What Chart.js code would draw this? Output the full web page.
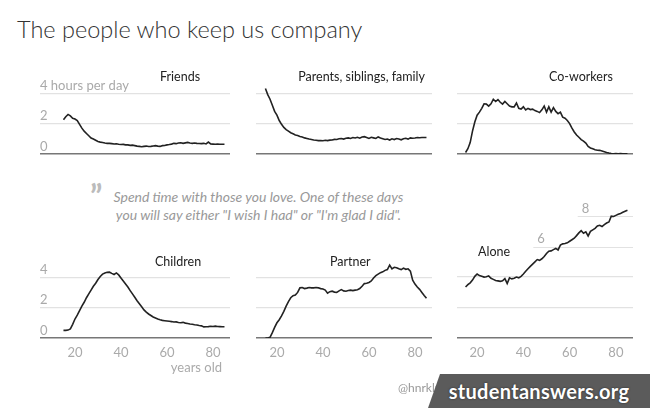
<!DOCTYPE html>
<html>
<head>
<meta charset="utf-8">
<title>The people who keep us company</title>
<script src="https://cdn.jsdelivr.net/npm/chart.js@4.4.0/dist/chart.umd.min.js"></script>
<style>
  body { margin: 0; background: #fff; }
  #wrap { position: relative; width: 650px; height: 408px; overflow: hidden; font-family: Lato, 'Open Sans', sans-serif; }
  #wrap canvas { position: absolute; }
  .txt { position: absolute; white-space: nowrap; }
  .title { left: 17px; top: 13px; font-size: 23.5px; line-height: 32px; font-weight: 300; color: #333; }
  .panel { font-size: 12.5px; line-height: 16px; color: #222; }
  .quote { left: 90px; width: 337px; top: 188px; font-size: 14px; line-height: 18px; font-style: italic; color: #999; text-align: center; }
  .qmark { left: 90px; top: 181px; font-size: 32px; line-height: 30px; font-weight: 700; color: #bbb; }
  .axis { font-size: 13px; line-height: 16px; color: #aaa; }
  .credit { left: 398px; top: 380px; font-size: 12px; line-height: 16px; color: #999; }
  .mark { left: 428px; top: 374px; width: 222px; height: 34px; background: #5b5b5b; color: #fff;
          font-weight: 700; font-size: 20px; line-height: 34px; text-align: center; letter-spacing: 0.3px;
          clip-path: polygon(12px 0, 100% 0, 100% 100%, 0 100%); text-shadow: 0 0 2px #222; }
</style>
</head>
<body>
<div id="wrap">
  <div class="txt title">The people who keep us company</div>

  <canvas id="friends" width="190" height="85" style="left:40px;top:72px"></canvas>
  <canvas id="parents" width="176" height="85" style="left:256px;top:72px"></canvas>
  <canvas id="coworkers" width="176" height="85" style="left:457px;top:72px"></canvas>
  <canvas id="children" width="190" height="114" style="left:40px;top:250px"></canvas>
  <canvas id="partner" width="176" height="114" style="left:256px;top:250px"></canvas>
  <canvas id="alone" width="176" height="169" style="left:457px;top:195px"></canvas>

  <div class="txt panel" style="left:160px;top:69px">Friends</div>
  <div class="txt panel" style="right:225px;top:69px">Parents, siblings, family</div>
  <div class="txt panel" style="left:549px;top:69px">Co-workers</div>
  <div class="txt panel" style="left:155px;top:254px">Children</div>
  <div class="txt panel" style="left:330px;top:254px">Partner</div>
  <div class="txt panel" style="left:478px;top:244px">Alone</div>

  <div class="txt qmark">&rdquo;</div>
  <div class="txt quote">Spend time with those you love. One of these days<br>you will say either "I wish I had" or "I'm glad I did".</div>

  <div class="txt axis" style="right:428px;top:359px">years old</div>
  <div class="txt credit">@hnrklndbrg</div>
  <div class="txt mark">studentanswers.org</div>
</div>

<script>
// Hours per day spent with each group, by age
const ages = [15, 16, 17, 18, 19, 20, 21, 22, 23, 24, 25, 26, 27, 28, 29, 30, 31, 32, 33, 34,
  35, 36, 37, 38, 39, 40, 41, 42, 43, 44, 45, 46, 47, 48, 49, 50, 51, 52, 53, 54,
  55, 56, 57, 58, 59, 60, 61, 62, 63, 64, 65, 66, 67, 68, 69, 70, 71, 72, 73, 74,
  75, 76, 77, 78, 79, 80, 81, 82, 83, 84, 85];

const friends = [2.25, 2.45, 2.6, 2.5, 2.35, 2.3, 2.2, 1.95, 1.7, 1.5, 1.35, 1.2, 1.05, 0.98, 0.9, 0.82, 0.78, 0.76, 0.72, 0.7,
  0.7, 0.68, 0.66, 0.67, 0.64, 0.62, 0.63, 0.6, 0.6, 0.57, 0.58, 0.55, 0.52, 0.5, 0.48, 0.5, 0.52, 0.49, 0.5, 0.53,
  0.55, 0.52, 0.5, 0.55, 0.56, 0.6, 0.62, 0.65, 0.7, 0.68, 0.72, 0.74, 0.7, 0.73, 0.76, 0.72, 0.7, 0.72, 0.7, 0.69,
  0.68, 0.7, 0.66, 0.78, 0.66, 0.65, 0.64, 0.65, 0.64, 0.64, 0.64];

const parents = [4.3, 3.9, 3.6, 3.2, 2.8, 2.55, 2.2, 1.95, 1.75, 1.6, 1.5, 1.4, 1.33, 1.25, 1.22, 1.15, 1.12, 1.06, 1.02, 0.98,
  0.95, 0.92, 0.9, 0.88, 0.89, 0.87, 0.9, 0.88, 0.91, 0.92, 0.96, 0.95, 1.0, 1.02, 0.98, 1.04, 1.06, 1.02, 1.08, 1.05,
  1.1, 1.04, 1.12, 1.14, 1.08, 1.02, 1.1, 1.06, 1.02, 1.12, 1.05, 1.0, 0.95, 0.98, 0.92, 1.0, 0.95, 1.02, 0.98, 0.93,
  1.0, 1.03, 0.98, 1.06, 1.04, 1.05, 1.08, 1.07, 1.08, 1.08, 1.08];

const coworkers = [0.1, 0.35, 0.75, 1.5, 2.1, 2.55, 2.75, 3.0, 3.3, 3.28, 3.15, 3.3, 3.6, 3.45, 3.58, 3.4, 3.28, 3.45, 3.3, 3.15,
  3.1, 3.1, 3.35, 3.0, 2.95, 3.1, 2.9, 3.0, 2.92, 2.95, 2.85, 2.8, 2.72, 2.9, 3.15, 2.75, 3.1, 2.75, 3.05, 2.8,
  2.65, 2.75, 2.42, 2.35, 2.2, 2.0, 1.7, 1.45, 1.25, 1.1, 0.95, 0.85, 0.72, 0.5, 0.4, 0.35, 0.28, 0.25, 0.24, 0.2,
  0.15, 0.1, 0.06, 0.03, 0.02, 0.03, 0.02, 0.03, 0.02, 0.02, 0.02];

const children = [0.5, 0.5, 0.52, 0.6, 0.9, 1.25, 1.5, 1.8, 2.1, 2.35, 2.65, 2.9, 3.15, 3.4, 3.6, 3.85, 4.05, 4.2, 4.28, 4.32,
  4.33, 4.25, 4.18, 4.28, 4.15, 3.95, 3.75, 3.55, 3.35, 3.12, 2.9, 2.68, 2.45, 2.25, 2.05, 1.85, 1.7, 1.58, 1.48, 1.38,
  1.32, 1.25, 1.2, 1.16, 1.14, 1.12, 1.1, 1.08, 1.05, 1.06, 1.02, 1.0, 1.03, 0.98, 0.95, 0.92, 0.9, 0.87, 0.85, 0.82,
  0.8, 0.73, 0.74, 0.75, 0.77, 0.76, 0.78, 0.76, 0.75, 0.74, 0.74];

const partner = [0, 0, 0.05, 0.35, 0.7, 1.0, 1.2, 1.45, 1.75, 2.1, 2.4, 2.65, 2.78, 2.82, 3.0, 3.3, 3.32, 3.25, 3.28, 3.32,
  3.3, 3.3, 3.32, 3.3, 3.25, 3.22, 3.15, 2.95, 3.05, 3.08, 3.02, 3.0, 3.1, 3.18, 3.1, 3.08, 3.12, 3.15, 3.12, 3.15,
  3.18, 3.25, 3.4, 3.58, 3.6, 3.65, 3.75, 3.95, 4.1, 4.2, 4.3, 4.35, 4.45, 4.5, 4.8, 4.55, 4.65, 4.62, 4.55, 4.5,
  4.6, 4.52, 4.55, 4.4, 3.8, 3.55, 3.35, 3.2, 3.0, 2.8, 2.62];

const alone = [3.35, 3.5, 3.62, 3.8, 4.05, 4.2, 4.1, 4.05, 4.0, 4.02, 4.08, 3.92, 3.85, 3.78, 3.75, 3.72, 3.75, 3.9, 3.58, 3.95,
  3.88, 3.92, 4.0, 3.95, 4.05, 4.2, 4.38, 4.55, 4.7, 4.85, 5.0, 5.15, 5.1, 5.2, 5.35, 5.55, 5.7, 5.72, 5.8, 5.88,
  5.78, 6.1, 6.18, 6.2, 6.25, 6.35, 6.45, 6.55, 6.72, 6.9, 7.05, 6.88, 6.97, 6.7, 7.0, 7.1, 7.2, 7.35, 7.4, 7.32,
  7.45, 7.55, 7.62, 8.0, 7.98, 8.05, 8.12, 8.18, 8.25, 8.32, 8.38];

// Ticks
const xTicks = [20, 40, 60, 80];
const yTicks = [0, 2, 4];
const yTicksAlone = [0, 2, 4, 6, 8];
const friendsTickLabels = ['0', '2', '4 hours per day'];
const childrenTickLabels = ['0', '2', '4'];
// the two upper lines in "Alone" are short and labelled where they start (age)
const aloneShortTicks = [6, 8];
const aloneShortLabels = ['6', '8'];
const aloneShortFrom = [44.3, 63.5];

// draws tick labels sitting just above their grid line
const tickText = {
  id: 'tickText',
  afterDraw(chart, args, opts) {
    if (!opts.values) return;
    const { ctx, chartArea, scales } = chart;
    ctx.save();
    ctx.font = '13px Lato, sans-serif';
    ctx.fillStyle = '#a9a9a9';
    ctx.textBaseline = 'bottom';
    opts.values.forEach((v, i) => {
      const x = opts.from ? scales.x.getPixelForValue(opts.from[i]) + 4 : chartArea.left;
      ctx.fillText(opts.labels[i], x, scales.y.getPixelForValue(v) - 1);
    });
    ctx.restore();
  }
};

// grid lines that only start part way along the panel
const shortGrid = {
  id: 'shortGrid',
  beforeDatasetsDraw(chart, args, opts) {
    if (!opts.values) return;
    const { ctx, chartArea, scales } = chart;
    ctx.save();
    ctx.strokeStyle = '#e2e2e2';
    ctx.lineWidth = 1.2;
    opts.values.forEach((v, i) => {
      const y = Math.round(scales.y.getPixelForValue(v)) + 0.5;
      ctx.beginPath();
      ctx.moveTo(scales.x.getPixelForValue(opts.from[i]), y);
      ctx.lineTo(chartArea.right, y);
      ctx.stroke();
    });
    ctx.restore();
  }
};

function makeChart(id, values, cfg) {
  const hidden = cfg.shortGrid ? cfg.shortGrid.values : [];
  new Chart(document.getElementById(id), {
    type: 'line',
    data: {
      datasets: [{
        data: ages.map((a, i) => ({ x: a, y: values[i] })),
        borderColor: '#222',
        borderWidth: 1.6,
        pointRadius: 0,
        tension: 0,
      }],
    },
    options: {
      responsive: false,
      animation: false,
      events: [],
      layout: { padding: { top: 12, bottom: cfg.showX ? 0 : 3, left: 0, right: 0 } },
      plugins: {
        legend: { display: false },
        tooltip: { enabled: false },
        tickText: cfg.tickText || {},
        shortGrid: cfg.shortGrid || {},
      },
      scales: {
        x: {
          type: 'linear',
          min: cfg.xMin,
          max: 87.4,
          display: cfg.showX,
          grid: { display: false, drawTicks: false },
          border: { display: false },
          afterBuildTicks: (axis) => { axis.ticks = xTicks.map((v) => ({ value: v })); },
          afterFit: (axis) => { axis.height = cfg.showX ? 26 : 0; },
          ticks: {
            color: '#aaa',
            font: { family: 'Lato', size: 13 },
            padding: 7,
            maxRotation: 0,
            autoSkip: false,
          },
        },
        y: {
          min: 0,
          max: cfg.yMax,
          grid: {
            drawTicks: false,
            color: (c) => c.tick.value === 0 ? '#777' : (hidden.includes(c.tick.value) ? 'rgba(0,0,0,0)' : '#e2e2e2'),
            lineWidth: (c) => c.tick.value === 0 ? 1.6 : 1.2,
          },
          border: { display: false },
          ticks: { display: false },
          afterBuildTicks: (axis) => { axis.ticks = cfg.yTicks.map((v) => ({ value: v })); },
        },
      },
    },
    plugins: [shortGrid, tickText],
  });
}

makeChart('friends', friends, {
  xMin: 4.8, yMax: 4.6, yTicks: yTicks, showX: false,
  tickText: { values: yTicks, labels: friendsTickLabels },
});
makeChart('parents', parents, { xMin: 10.9, yMax: 4.6, yTicks: yTicks, showX: false });
makeChart('coworkers', coworkers, { xMin: 11.3, yMax: 4.6, yTicks: yTicks, showX: false });
makeChart('children', children, {
  xMin: 4.8, yMax: 5, yTicks: yTicks, showX: true,
  tickText: { values: yTicks, labels: childrenTickLabels },
});
makeChart('partner', partner, { xMin: 10.9, yMax: 5, yTicks: yTicks, showX: true });
makeChart('alone', alone, {
  xMin: 11.3, yMax: 8.6, yTicks: yTicksAlone, showX: true,
  shortGrid: { values: aloneShortTicks, from: aloneShortFrom },
  tickText: { values: aloneShortTicks, labels: aloneShortLabels, from: aloneShortFrom },
});
</script>
</body>
</html>
